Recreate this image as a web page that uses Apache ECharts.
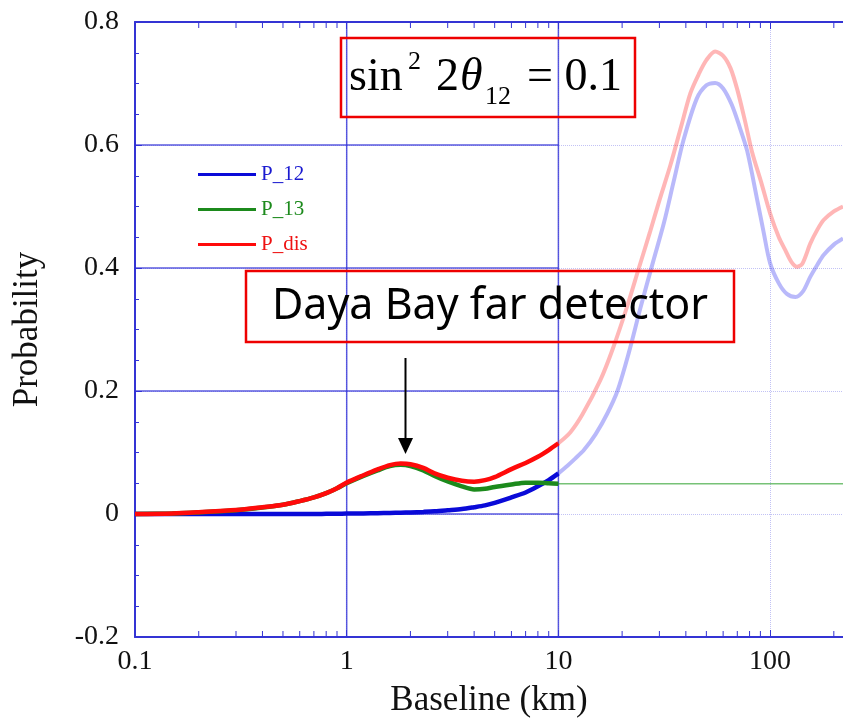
<!DOCTYPE html>
<html>
<head>
<meta charset="utf-8">
<script src="https://cdn.jsdelivr.net/npm/echarts@6/dist/echarts.min.js"></script>
<style>
  html, body { margin: 0; padding: 0; background: #ffffff; }
  #chart { width: 843px; height: 722px; }
</style>
</head>
<body>
<div id="chart"></div>
<script>
// Oscillation probabilities versus baseline (km)
// Solid section: 0.1 - 10 km
const baselineNear = [0.1, 0.15, 0.2, 0.3, 0.4, 0.5, 0.6, 0.7, 0.8, 0.9, 1.0, 1.2, 1.4, 1.6, 1.8, 2.0, 2.3, 2.6, 3.0, 3.5, 4.0, 4.5, 5.0, 6.0, 7.0, 8.0, 9.0, 10];
const p12Near  = [0, 0, 0, 0, 0, 0, 0, 0, 0.0003, 0.0005, 0.0007, 0.001, 0.0013, 0.0017, 0.0021, 0.0026, 0.0034, 0.0043, 0.006, 0.008, 0.011, 0.014, 0.018, 0.027, 0.035, 0.045, 0.055, 0.066];
const p13Near  = [0, 0.001, 0.0025, 0.006, 0.0105, 0.015, 0.021, 0.027, 0.034, 0.042, 0.050, 0.062, 0.071, 0.078, 0.080, 0.078, 0.071, 0.062, 0.053, 0.045, 0.040, 0.041, 0.044, 0.048, 0.051, 0.051, 0.050, 0.049];
const pDisNear = [0, 0.001, 0.003, 0.0065, 0.011, 0.015, 0.021, 0.027, 0.034, 0.042, 0.051, 0.063, 0.0725, 0.0795, 0.082, 0.081, 0.075, 0.066, 0.059, 0.054, 0.0525, 0.055, 0.060, 0.073, 0.083, 0.093, 0.104, 0.115];

// Faded continuation beyond 10 km
const baselineFarBlue = [10, 11, 12, 13.2, 15, 17, 19, 21.5, 24.4, 28, 31.5, 35, 39, 45, 50, 55, 60, 66, 72, 78, 87, 93, 100, 110, 120, 132, 143, 155, 167, 179, 200, 221];
const p12Far          = [0.066, 0.078, 0.09, 0.104, 0.13, 0.163, 0.2, 0.262, 0.335, 0.41, 0.473, 0.54, 0.608, 0.675, 0.697, 0.701, 0.692, 0.665, 0.628, 0.59, 0.51, 0.46, 0.408, 0.375, 0.358, 0.353, 0.362, 0.386, 0.405, 0.421, 0.438, 0.448];
const baselineFarRed  = [10, 11.4, 13, 15.8, 18, 21.1, 24, 27, 30, 33.8, 38, 42, 46, 50, 55, 60, 65, 70, 76, 82, 91, 100, 110, 118, 126, 134, 142, 155, 167, 179, 200, 221];
const pDisFar         = [0.115, 0.133, 0.162, 0.218, 0.267, 0.337, 0.40, 0.457, 0.51, 0.567, 0.63, 0.684, 0.715, 0.738, 0.752, 0.745, 0.725, 0.69, 0.64, 0.59, 0.538, 0.489, 0.45, 0.429, 0.41, 0.402, 0.407, 0.44, 0.462, 0.478, 0.492, 0.50];
const baselineFarGreen = [10, 221];
const p13Far           = [0.049, 0.049];

// Axis ranges and tick values
const xMin = 0.1, xMax = 221;
const yMin = -0.2, yMax = 0.8, yStep = 0.2;
const solidRowsY = [0, 0.2, 0.4, 0.6];   // bold grid rows inside 0.1 - 10 km
const solidRowSpan = [0.1, 10];
const solidColsX = [1, 10];              // bold grid columns
const minorTicksX = [0.2, 0.3, 0.4, 0.5, 0.6, 0.7, 0.8, 0.9, 2, 3, 4, 5, 6, 7, 8, 9, 20, 30, 40, 50, 60, 70, 80, 90, 200];

const SERIF = "'Liberation Serif', 'Times New Roman', serif";
const AXIS_BLUE = '#3434d4';

const pairs = (xs, ys) => xs.map((x, i) => [x, ys[i]]);

const gridSegments = [];
solidRowsY.forEach(y => gridSegments.push([solidRowSpan[0], y, solidRowSpan[1], y]));
solidColsX.forEach(x => gridSegments.push([x, yMin, x, yMax]));

const chart = echarts.init(document.getElementById('chart'), null, { renderer: 'canvas' });

const lineSeries = (name, data, color, width, opacity, z) => ({
  name, type: 'line', data, showSymbol: false, symbol: 'none', smooth: 0.3,
  lineStyle: { color, width, opacity }, itemStyle: { color }, z,
  emphasis: { disabled: true }, silent: true
});

chart.setOption({
  animation: false,
  backgroundColor: '#ffffff',
  grid: { left: 135, right: 0, top: 22, bottom: 85, containLabel: false, outerBoundsMode: 'none' },
  legend: {
    left: 193, top: 159, orient: 'vertical', icon: 'rect',
    itemWidth: 58, itemHeight: 3, itemGap: 14, selectedMode: false,
    textStyle: { fontFamily: SERIF, fontSize: 21, padding: [0, 0, 0, 0] },
    data: [
      { name: 'P_12', textStyle: { color: '#1a1ad0' } },
      { name: 'P_13', textStyle: { color: '#1c8a1c' } },
      { name: 'P_dis', textStyle: { color: '#ee1111' } }
    ]
  },
  xAxis: [{
    type: 'log', logBase: 10, min: xMin, max: xMax, position: 'bottom',
    name: 'Baseline (km)', nameLocation: 'middle', nameGap: 46,
    nameTextStyle: { fontFamily: SERIF, fontSize: 35, color: '#111' },
    axisLine: { show: true, onZero: false, lineStyle: { color: AXIS_BLUE, width: 2 } },
    axisTick: { show: true, inside: true, length: 7, lineStyle: { color: AXIS_BLUE } },
    axisLabel: { fontFamily: SERIF, fontSize: 28, color: '#111', margin: 11, showMaxLabel: false },
    splitLine: { show: true, lineStyle: { color: 'rgba(80,80,225,0.35)', type: 'dotted', width: 1 } }
  }, {
    type: 'log', logBase: 10, min: xMin, max: xMax, position: 'top',
    axisLine: { show: true, onZero: false, lineStyle: { color: AXIS_BLUE, width: 2 } },
    axisTick: { show: true, inside: true, length: 7, lineStyle: { color: AXIS_BLUE } },
    axisLabel: { show: false }, splitLine: { show: false }
  }],
  yAxis: {
    type: 'value', min: yMin, max: yMax, interval: yStep,
    name: 'Probability', nameLocation: 'middle', nameGap: 90, nameRotate: 90,
    nameTextStyle: { fontFamily: SERIF, fontSize: 35, color: '#111' },
    axisLine: { show: true, onZero: false, lineStyle: { color: AXIS_BLUE, width: 2 } },
    axisTick: { show: true, inside: true, length: 7, lineStyle: { color: AXIS_BLUE } },
    minorTick: { show: true, splitNumber: 4, length: 4, lineStyle: { color: AXIS_BLUE } },
    axisLabel: { fontFamily: SERIF, fontSize: 28, color: '#111', margin: 16 },
    splitLine: { show: true, lineStyle: { color: 'rgba(80,80,225,0.35)', type: 'dotted', width: 1 } }
  },
  series: [
    {
      name: 'grid-bold', type: 'custom', silent: true, z: 1,
      data: gridSegments,
      encode: { x: [0, 2], y: [1, 3] },
      renderItem: (params, api) => {
        const a = api.coord([api.value(0), api.value(1)]);
        const b = api.coord([api.value(2), api.value(3)]);
        return { type: 'line', shape: { x1: a[0], y1: a[1], x2: b[0], y2: b[1] },
                 style: { stroke: 'rgba(50,50,215,0.8)', lineWidth: 1.5 } };
      }
    },
    {
      name: 'minor-ticks-x', type: 'custom', silent: true, z: 1,
      data: minorTicksX.map(x => [x, yMin]),
      encode: { x: 0, y: 1 },
      renderItem: (params, api) => {
        const b = api.coord([api.value(0), yMin]);
        const t = api.coord([api.value(0), yMax]);
        const st = { stroke: AXIS_BLUE, lineWidth: 1 };
        return { type: 'group', children: [
          { type: 'line', shape: { x1: b[0], y1: b[1], x2: b[0], y2: b[1] - 6 }, style: st },
          { type: 'line', shape: { x1: t[0], y1: t[1], x2: t[0], y2: t[1] + 6 }, style: st }
        ] };
      }
    },
    lineSeries('P_12 far', pairs(baselineFarBlue, p12Far), '#2a2af0', 4, 0.33, 2),
    lineSeries('P_13 far', pairs(baselineFarGreen, p13Far), '#1c9a1c', 1.5, 0.6, 2),
    lineSeries('P_dis far', pairs(baselineFarRed, pDisFar), '#ff2020', 4, 0.33, 2),
    lineSeries('P_12', pairs(baselineNear, p12Near), '#0a0ad8', 4.5, 1, 3),
    lineSeries('P_13', pairs(baselineNear, p13Near), '#1c8a1c', 4.5, 1, 4),
    lineSeries('P_dis', pairs(baselineNear, pDisNear), '#ff0a0a', 4.5, 1, 5)
  ],
  graphic: [
    // mixing-angle box
    { type: 'rect', shape: { x: 341, y: 38, width: 294, height: 79 }, style: { fill: 'none', stroke: '#ee0000', lineWidth: 2.5 }, z: 10 },
    { type: 'text', x: 349, y: 78, style: { text: 'sin', font: '46px ' + SERIF, fill: '#000', verticalAlign: 'middle' }, z: 11 },
    { type: 'text', x: 408, y: 62, style: { text: '2', font: '26px ' + SERIF, fill: '#000', verticalAlign: 'middle' }, z: 11 },
    { type: 'text', x: 436, y: 78, style: { text: '2', font: '46px ' + SERIF, fill: '#000', verticalAlign: 'middle' }, z: 11 },
    { type: 'text', x: 460, y: 78, style: { text: 'θ', font: 'italic 46px ' + SERIF, fill: '#000', verticalAlign: 'middle' }, z: 11 },
    { type: 'text', x: 485, y: 97, style: { text: '12', font: '26px ' + SERIF, fill: '#000', verticalAlign: 'middle' }, z: 11 },
    { type: 'text', x: 527, y: 78, style: { text: '= 0.1', font: '46px ' + SERIF, fill: '#000', verticalAlign: 'middle' }, z: 11 },
    // detector box
    { type: 'rect', shape: { x: 246, y: 271, width: 488, height: 71 }, style: { fill: 'none', stroke: '#ee0000', lineWidth: 2.5 }, z: 10 },
    { type: 'text', x: 490, y: 307, style: { text: 'Daya Bay far detector', font: "43px 'Comic Sans MS', 'Noto Sans', 'DejaVu Sans', sans-serif", fill: '#000', align: 'center', verticalAlign: 'middle' }, z: 11 },
    // arrow pointing at the detector baseline
    { type: 'line', shape: { x1: 405.5, y1: 358, x2: 405.5, y2: 442 }, style: { stroke: '#000', lineWidth: 2 }, z: 11 },
    { type: 'polygon', shape: { points: [[398, 438], [413, 438], [405.5, 454]] }, style: { fill: '#000' }, z: 11 }
  ]
});
</script>
</body>
</html>
